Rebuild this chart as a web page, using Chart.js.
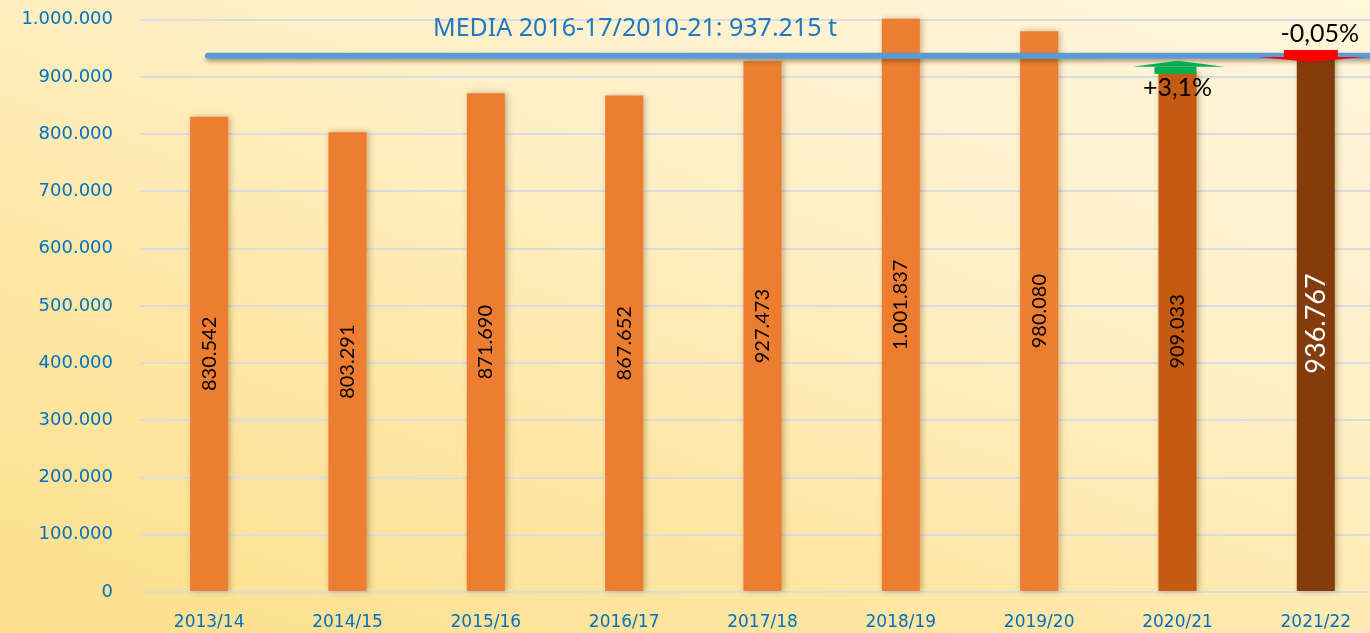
<!DOCTYPE html>
<html>
<head>
<meta charset="utf-8">
<script src="https://cdn.jsdelivr.net/npm/chart.js@4.4.1/dist/chart.umd.min.js"></script>
<style>
  html, body { margin: 0; padding: 0; overflow: hidden; width: 1370px; height: 633px; }
  body { background: linear-gradient(20deg, #fddf8c 0%, #fee7a6 35%, #fff0c8 65%, #fff6dc 100%); }
  #wrap { position: absolute; left: 0; top: -18px; width: 1385px; height: 651px; }
</style>
</head>
<body>
<div id="wrap"><canvas id="mainChart" width="1385" height="651"></canvas></div>
<script>
// campaign production, tonnes
const seasons = ["2013/14", "2014/15", "2015/16", "2016/17", "2017/18", "2018/19", "2019/20", "2020/21", "2021/22"];
const tonnes = [830542, 803291, 871690, 867652, 927473, 1001837, 980080, 909033, 936767];
const barLabels = ["830.542", "803.291", "871.690", "867.652", "927.473", "1.001.837", "980.080", "909.033", "936.767"];
const barColors = ["#ed7d31", "#ed7d31", "#ed7d31", "#ed7d31", "#ed7d31", "#ed7d31", "#ed7d31", "#c55a11", "#843c0c"];
const mediaValue = 937215;
const mediaText = "MEDIA 2016-17/2010-21: 937.215 t";
const changeUp = "+3,1%";
const changeDown = "-0,05%";

function fmt(v) {
    return String(v).replace(/\B(?=(\d{3})+(?!\d))/g, ".");
}

const barShadow = {
    id: "barShadow",
    beforeDatasetsDraw(chart) {
        let ctx = chart.ctx;
        ctx.save();
        ctx.shadowColor = "rgba(90,60,0,0.35)";
        ctx.shadowBlur = 6;
        ctx.shadowOffsetX = 2;
    },
    afterDatasetsDraw(chart) {
        chart.ctx.restore();
    }
};

const extras = {
    id: "extras",
    afterDraw(chart) {
        let ctx = chart.ctx;
        let x = chart.scales.x, y = chart.scales.y;
        let area = chart.chartArea;

        // values inside bars
        let meta = chart.getDatasetMeta(0);
        meta.data.forEach((bar, i) => {
            let last = i === tonnes.length - 1;
            let mid = (bar.y + bar.base) / 2;
            ctx.save();
            ctx.translate(bar.x, mid);
            ctx.rotate(-Math.PI / 2);
            ctx.font = (last ? "27px" : "20px") + " Lato";
            ctx.fillStyle = last ? "#ffffff" : "#000000";
            ctx.textAlign = "center";
            ctx.textBaseline = "middle";
            ctx.fillText(barLabels[i], 0, 0);
            ctx.restore();
        });

        // average line
        let my = y.getPixelForValue(mediaValue);
        ctx.save();
        ctx.shadowColor = "rgba(80,60,20,0.45)";
        ctx.shadowBlur = 4;
        ctx.shadowOffsetX = 1;
        ctx.shadowOffsetY = 3;
        ctx.strokeStyle = "#5b9bd5";
        ctx.lineWidth = 6;
        ctx.lineCap = "round";
        ctx.beginPath();
        ctx.moveTo(area.left + 68, my);
        ctx.lineTo(1372, my);
        ctx.stroke();
        ctx.restore();

        ctx.save();
        ctx.font = "25px 'Noto Sans'";
        ctx.fillStyle = "#1f78c1";
        ctx.textAlign = "center";
        ctx.textBaseline = "middle";
        ctx.fillText(mediaText, 635, area.top + 9);
        ctx.restore();

        // green up arrow on 2020/21
        let gx = x.getPixelForValue(7), gt = y.getPixelForValue(tonnes[7]);
        ctx.save();
        ctx.fillStyle = "#00b050";
        ctx.fillRect(gx - 23, gt - 5, 42, 7);
        ctx.beginPath();
        ctx.moveTo(gx - 45, gt - 5);
        ctx.lineTo(gx, gt - 11);
        ctx.lineTo(gx + 47, gt - 5);
        ctx.closePath();
        ctx.fill();
        ctx.restore();

        // red down arrow on 2021/22
        let rx = x.getPixelForValue(8), rt = y.getPixelForValue(tonnes[8]);
        ctx.save();
        ctx.fillStyle = "#ff0000";
        ctx.fillRect(rx - 32, rt - 6, 54, 7);
        ctx.beginPath();
        ctx.moveTo(rx - 58, rt + 1);
        ctx.lineTo(rx + 49, rt + 1);
        ctx.lineTo(rx - 6, rt + 6);
        ctx.closePath();
        ctx.fill();
        ctx.restore();

        ctx.save();
        ctx.font = "25px Lato";
        ctx.fillStyle = "#000000";
        ctx.textAlign = "center";
        ctx.textBaseline = "middle";
        ctx.fillText(changeUp, gx, gt + 16);
        ctx.fillText(changeDown, rx + 4, rt - 22);
        ctx.restore();
    }
};

let ctx = document.getElementById("mainChart").getContext("2d");

window.chart = new Chart(ctx, {
    type: "bar",
    data: {
        labels: seasons,
        datasets: [{
            data: tonnes,
            backgroundColor: barColors,
            borderWidth: 0,
            barPercentage: 0.275,
            categoryPercentage: 1,
            clip: false
        }]
    },
    options: {
        responsive: false,
        animation: false,
        layout: { padding: { top: 18, right: 0, left: 0, bottom: 0 } },
        plugins: {
            legend: { display: false },
            tooltip: { enabled: false }
        },
        scales: {
            x: {
                grid: { display: false },
                border: { display: false },
                ticks: {
                    color: "#0070c0",
                    font: { family: "DejaVu Sans", size: 17 },
                    padding: 12,
                    maxRotation: 0
                },
                afterFit: s => { s.height = 41; }
            },
            y: {
                min: 0,
                max: 1000000,
                grid: { color: "#d9dce3", lineWidth: 2, drawTicks: false },
                border: { display: false },
                ticks: {
                    stepSize: 100000,
                    color: "#0070c0",
                    font: { family: "DejaVu Sans", size: 18 },
                    padding: 27,
                    callback: v => fmt(v)
                },
                afterFit: s => { s.width = 140; }
            }
        }
    },
    plugins: [barShadow, extras]
});
</script>
</body>
</html>
